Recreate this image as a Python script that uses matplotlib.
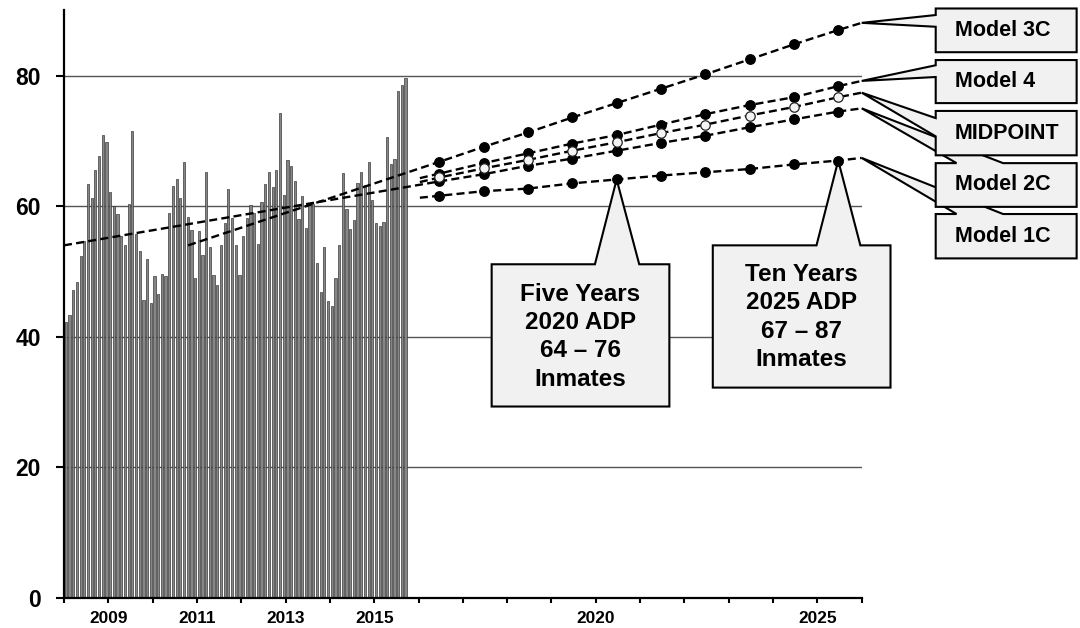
import numpy as np
import matplotlib
matplotlib.use("Agg")
import matplotlib.pyplot as plt
from matplotlib.patches import Polygon

plt.rcParams['font.family'] = ['Liberation Sans', 'DejaVu Sans']
plt.rcParams['font.weight'] = 'bold'

# monthly average daily population, Jan 2008 - Sep 2015
adp_2008 = [42.2, 43.4, 47.2, 48.4, 52.4, 54.6, 63.4, 61.3, 65.5, 67.7, 70.9, 69.9]
adp_2009 = [62.2, 60.1, 58.8, 55.4, 54.1, 60.4, 71.6, 55.8, 53.1, 45.7, 51.9, 45.2]
adp_2010 = [49.3, 46.6, 49.6, 49.3, 58.9, 63.1, 64.2, 61.2, 66.7, 58.3, 56.4, 49.0]
adp_2011 = [56.2, 52.5, 65.2, 53.7, 49.4, 48.0, 54.1, 57.4, 62.7, 58.2, 54.0, 49.5]
adp_2012 = [55.5, 58.2, 60.2, 58.9, 54.2, 60.7, 63.4, 65.2, 63.0, 65.5, 74.3, 61.7]
adp_2013 = [67.1, 66.1, 63.9, 58.0, 61.6, 56.7, 60.4, 60.3, 51.3, 46.9, 53.7, 45.4]
adp_2014 = [44.7, 49.0, 54.0, 65.1, 59.5, 56.5, 57.9, 63.6, 65.3, 63.3, 66.8, 60.9]
adp_2015 = [57.5, 57.0, 57.6, 70.6, 66.5, 67.2, 77.7, 78.6, 79.6]
monthly_adp = adp_2008 + adp_2009 + adp_2010 + adp_2011 + adp_2012 + adp_2013 + adp_2014 + adp_2015

# projections (one point per year, plotted mid-year)
proj_years = list(range(2016, 2026))
model_3c = [66.8, 69.1, 71.3, 73.6, 75.8, 78.0, 80.2, 82.5, 84.8, 87.0]
model_4 = [65.0, 66.6, 68.1, 69.6, 70.9, 72.5, 74.1, 75.5, 76.7, 78.4]
midpoint = [64.4, 65.8, 67.1, 68.5, 69.8, 71.2, 72.5, 73.9, 75.2, 76.7]
model_2c = [63.8, 64.9, 66.2, 67.3, 68.5, 69.7, 70.8, 72.1, 73.3, 74.5]
model_1c = [61.6, 62.3, 62.7, 63.5, 64.1, 64.7, 65.2, 65.7, 66.4, 67.0]

# where each trend line starts and where it ends (at 2026)
trend_start_year = [2010.8, 2016.03, 2016.03, 2008.0, 2016.03]
trend_start_val = [54.0, 64.3, 63.7, 54.0, 61.3]
trend_end_val = [88.1, 79.2, 77.4, 75.0, 67.4]
model_names = ["Model 3C", "Model 4", "MIDPOINT", "Model 2C", "Model 1C"]
model_vals = [model_3c, model_4, midpoint, model_2c, model_1c]

x_labels = {2009: "2009", 2011: "2011", 2013: "2013", 2015: "2015", 2020: "2020", 2025: "2025"}

fig = plt.figure(figsize=(10.8, 6.28), dpi=100)
ax = fig.add_axes([64 / 1080, 30.3 / 628, 797.7 / 1080, 587.25 / 628])

# bars
month_x = 2008 + (np.arange(len(monthly_adp)) + 0.5) / 12
ax.bar(month_x, monthly_adp, width=0.6 / 12, color="#868686", edgecolor="#3a3a3a",
       linewidth=0.5, zorder=2)

# trend lines + dots
dot_x = [y + 0.47 for y in proj_years]
for i, vals in enumerate(model_vals):
    xs = [trend_start_year[i]] + dot_x + [2026]
    ys = [trend_start_val[i]] + vals + [trend_end_val[i]]
    ln, = ax.plot(xs, ys, color="black", lw=1.7, zorder=3)
    ln.set_dashes((3.4, 1.8))
for i, vals in enumerate(model_vals):
    if model_names[i] == "MIDPOINT":
        continue
    ax.plot(dot_x, vals, "o", ms=6.8, color="black", zorder=6)
ax.plot(dot_x, midpoint, "o", ms=6.8, mfc="#f4f4f4", mec="#222222", mew=0.9, zorder=7)

ax.set_xlim(2008, 2026)
ax.set_ylim(0, 90)
ax.set_yticks([0, 20, 40, 60, 80])
ax.set_xticks(range(2008, 2027))
ax.set_xticklabels([x_labels.get(y, "") for y in range(2008, 2027)])
ax.tick_params(axis="y", labelsize=16.5, length=5.5, width=1.5, pad=11)
ax.tick_params(axis="x", labelsize=12.4, length=3.6, width=1.5, pad=6)
ax.grid(axis="y", color="#555555", lw=1.0)
ax.set_axisbelow(True)
for s in ["top", "right"]:
    ax.spines[s].set_visible(False)
for s in ["left", "bottom"]:
    ax.spines[s].set_linewidth(1.6)


def callout(x0, x1, y0, y1, tip, base, side, z):
    if side == "left":
        verts = [(x0, y1), (x1, y1), (x1, y0), (x0, y0), (x0, base[1]), tip, (x0, base[0])]
    else:
        verts = [(x0, y1), (base[0], y1), tip, (base[1], y1), (x1, y1), (x1, y0), (x0, y0)]
    p = Polygon(verts, closed=True, fc="#f1f1f1", ec="black", lw=1.5, joinstyle="miter",
                clip_on=False, zorder=z)
    ax.add_patch(p)


# five / ten year callouts
callout(2017.65, 2021.66, 29.3, 51.1, (dot_x[4], model_1c[4]), (2019.98, 2020.98), "top", 4)
ax.text(2019.655, 40.0, "Five Years\n2020 ADP\n64 \u2013 76\nInmates", ha="center", va="center",
        fontsize=17.5, linespacing=1.3, zorder=5)
callout(2022.64, 2026.65, 32.2, 54.0, (dot_x[9], model_1c[9]), (2024.98, 2025.97), "top", 4)
ax.text(2024.645, 43.0, "Ten Years\n2025 ADP\n67 \u2013 87\nInmates", ha="center", va="center",
        fontsize=17.5, linespacing=1.3, zorder=5)

# model labels on the right (drawn bottom first so upper boxes cover lower wedges)
bx0, bx1 = 2027.67, 2030.85
label_boxes = [
    ("Model 3C", 83.6, 90.3, (89.3, 87.5), "left"),
    ("Model 4", 75.8, 82.4, (81.6, 79.8), "left"),
    ("MIDPOINT", 67.8, 74.6, (73.5, 70.7), "left"),
    ("Model 2C", 59.9, 66.6, (2028.14, 2029.19), "top"),
    ("Model 1C", 52.0, 58.8, (2028.14, 2029.19), "top"),
]
for k in range(len(label_boxes) - 1, -1, -1):
    name, y0, y1, base, side = label_boxes[k]
    callout(bx0, bx1, y0, y1, (2026, trend_end_val[k]), base, side, 8 + (4 - k))
    ax.text(2028.1, (y0 + y1) / 2, name, ha="left", va="center", fontsize=15.5,
            zorder=9 + (4 - k), clip_on=False)

fig.savefig("out.png", dpi=100)
